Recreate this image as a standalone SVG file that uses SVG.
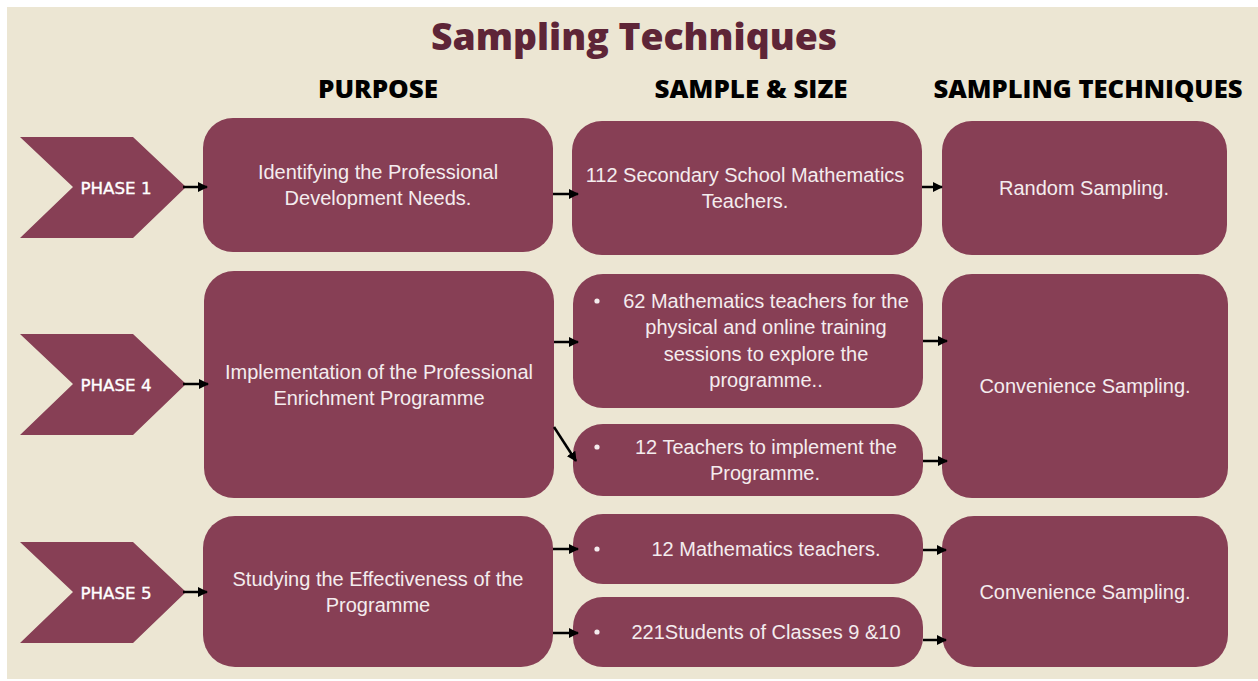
<svg xmlns="http://www.w3.org/2000/svg" width="1258" height="681" viewBox="0 0 1258 681">
  <defs>
    <marker id="arrowHead" viewBox="0 0 10 10" refX="9" refY="5" markerWidth="4" markerHeight="4" orient="auto" markerUnits="strokeWidth">
      <path d="M0,0 L10,5 L0,10 z" fill="#000"/>
    </marker>
    <style>
      .bg { fill: #ECE6D3; }
      .box { fill: #873F55; }
      .chev { fill: #873F55; }
      .title { font-family: "Open Sans", "DejaVu Sans", sans-serif; font-weight: 800; font-size: 37px; fill: #5E2537; text-anchor: middle; }
      .head { font-family: "Open Sans", "DejaVu Sans", sans-serif; font-weight: 800; font-size: 24px; fill: #000; text-anchor: middle; }
      .phase { font-family: "DejaVu Sans", sans-serif; font-size: 16px; fill: #fff; stroke: #fff; stroke-width: 0.35; text-anchor: middle; }
      .label { font-family: "Liberation Sans", Arial, sans-serif; font-size: 20px; fill: #F4ECEE; text-anchor: middle; }
      .bullet { fill: #F4ECEE; }
      .conn line { stroke: #000; stroke-width: 2.5; marker-end: url(#arrowHead); }
    </style>
  </defs>

  <!-- page -->
  <rect x="0" y="0" width="1258" height="681" fill="#fff"/>
  <rect class="bg" x="7" y="7" width="1251" height="672"/>

  <!-- headings -->
  <text class="title" x="634" y="50" textLength="406" lengthAdjust="spacingAndGlyphs">Sampling Techniques</text>
  <text class="head" x="378" y="98" textLength="120" lengthAdjust="spacingAndGlyphs">PURPOSE</text>
  <text class="head" x="751" y="98" textLength="193" lengthAdjust="spacingAndGlyphs">SAMPLE &amp; SIZE</text>
  <text class="head" x="1088" y="98" textLength="309" lengthAdjust="spacingAndGlyphs">SAMPLING TECHNIQUES</text>

  <!-- phase markers -->
  <g id="phase1">
    <polygon class="chev" points="20,137 133,137 186,187 133,238 20,238 73,187"/>
    <text class="phase" x="116" y="194" textLength="71" lengthAdjust="spacingAndGlyphs">PHASE 1</text>
  </g>
  <g id="phase4">
    <polygon class="chev" points="20,334 133,334 186,384 133,435 20,435 73,384"/>
    <text class="phase" x="116" y="391" textLength="71" lengthAdjust="spacingAndGlyphs">PHASE 4</text>
  </g>
  <g id="phase5">
    <polygon class="chev" points="20,542 133,542 186,592 133,643 20,643 73,592"/>
    <text class="phase" x="116" y="599" textLength="71" lengthAdjust="spacingAndGlyphs">PHASE 5</text>
  </g>

  <!-- purpose column -->
  <g id="purpose1">
    <rect class="box" x="203" y="118" width="350" height="134" rx="30"/>
    <text class="label" x="378" y="179">Identifying the Professional</text>
    <text class="label" x="378" y="205">Development Needs.</text>
  </g>
  <g id="purpose4">
    <rect class="box" x="204" y="271" width="350" height="227" rx="30"/>
    <text class="label" x="379" y="379">Implementation of the Professional</text>
    <text class="label" x="379" y="405">Enrichment Programme</text>
  </g>
  <g id="purpose5">
    <rect class="box" x="203" y="516" width="350" height="151" rx="32"/>
    <text class="label" x="378" y="586">Studying the Effectiveness of the</text>
    <text class="label" x="378" y="612">Programme</text>
  </g>

  <!-- sample & size column -->
  <g id="sample1">
    <rect class="box" x="572" y="121" width="350" height="134" rx="30"/>
    <text class="label" x="745" y="182">112 Secondary School Mathematics</text>
    <text class="label" x="745" y="208">Teachers.</text>
  </g>
  <g id="sample4a">
    <rect class="box" x="573" y="274" width="350" height="134" rx="30"/>
    <circle class="bullet" cx="597" cy="301" r="2.6"/>
    <text class="label" x="766" y="308">62 Mathematics teachers for the</text>
    <text class="label" x="766" y="334">physical and online training</text>
    <text class="label" x="766" y="361">sessions to explore the</text>
    <text class="label" x="766" y="387">programme..</text>
  </g>
  <g id="sample4b">
    <rect class="box" x="573" y="424" width="350" height="72" rx="30"/>
    <circle class="bullet" cx="597" cy="447" r="2.6"/>
    <text class="label" x="766" y="454">12 Teachers to implement the</text>
    <text class="label" x="765" y="480">Programme.</text>
  </g>
  <g id="sample5a">
    <rect class="box" x="573" y="514" width="350" height="70" rx="30"/>
    <circle class="bullet" cx="597" cy="549" r="2.6"/>
    <text class="label" x="766" y="556">12 Mathematics teachers.</text>
  </g>
  <g id="sample5b">
    <rect class="box" x="573" y="597" width="350" height="70" rx="30"/>
    <circle class="bullet" cx="597" cy="632" r="2.6"/>
    <text class="label" x="766" y="639">221Students of Classes 9 &amp;10</text>
  </g>

  <!-- technique column -->
  <g id="technique1">
    <rect class="box" x="942" y="121" width="285" height="134" rx="30"/>
    <text class="label" x="1084" y="195">Random Sampling.</text>
  </g>
  <g id="technique4">
    <rect class="box" x="942" y="274" width="286" height="224" rx="30"/>
    <text class="label" x="1085" y="393">Convenience Sampling.</text>
  </g>
  <g id="technique5">
    <rect class="box" x="942" y="516" width="286" height="151" rx="32"/>
    <text class="label" x="1085" y="599">Convenience Sampling.</text>
  </g>

  <!-- connectors -->
  <g class="conn" id="connectors">
    <line x1="183" y1="187" x2="207" y2="187"/>
    <line x1="553" y1="194" x2="578" y2="194"/>
    <line x1="922" y1="187" x2="942" y2="187"/>

    <line x1="183" y1="384" x2="208" y2="384"/>
    <line x1="554" y1="342" x2="578" y2="342"/>
    <line x1="554" y1="427" x2="576" y2="461"/>
    <line x1="923" y1="341" x2="947" y2="341"/>
    <line x1="923" y1="461" x2="947" y2="461"/>

    <line x1="183" y1="592" x2="207" y2="592"/>
    <line x1="553" y1="549" x2="578" y2="549"/>
    <line x1="553" y1="633" x2="578" y2="633"/>
    <line x1="923" y1="550" x2="946" y2="550"/>
    <line x1="923" y1="640" x2="946" y2="640"/>
  </g>
</svg>
